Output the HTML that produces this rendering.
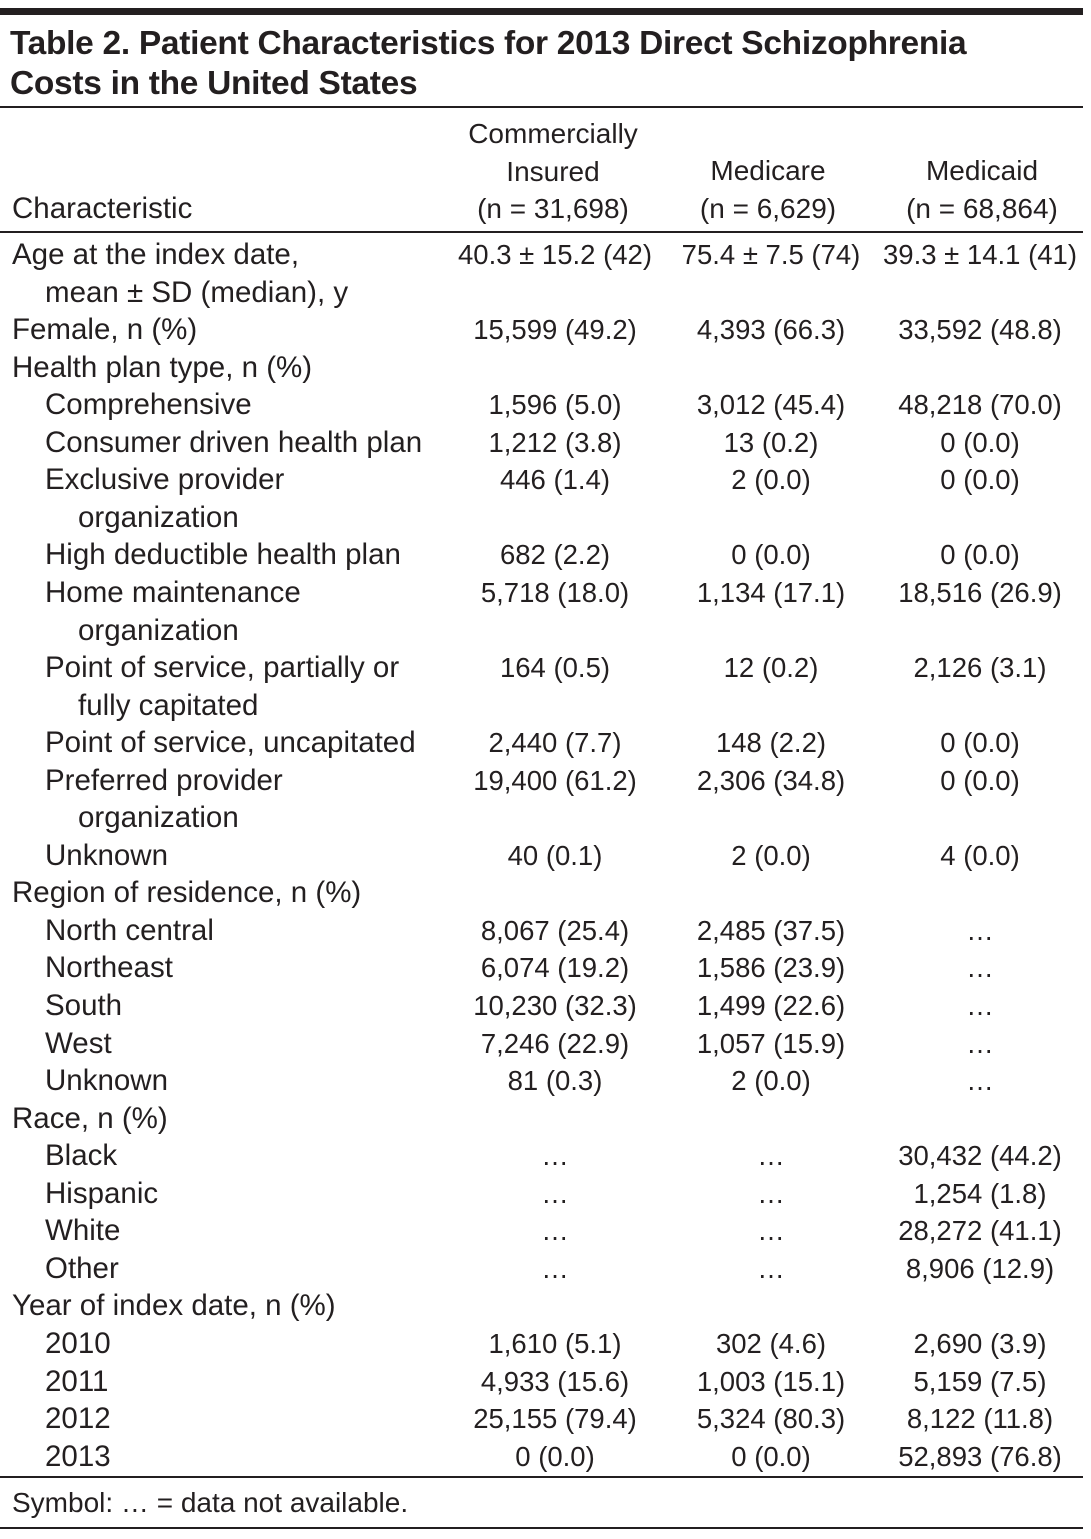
<!DOCTYPE html>
<html><head><meta charset="utf-8">
<style>
body{margin:0;background:#fff;width:1091px;height:1539px;position:relative;overflow:hidden;font-family:"Liberation Sans",sans-serif;color:#231f20}
.a{position:absolute;white-space:nowrap}
.r{position:absolute;left:0;width:1091px;height:38px;line-height:38px;font-size:27.5px}
.lab{font-size:29.5px}
.c{position:absolute;top:0;transform:translateX(-50%)}
.hl{position:absolute;left:0;width:1083px;background:#231f20}
</style></head><body>
<div class="hl" style="top:8px;height:7px"></div>
<div class="a" style="left:10px;top:24px;font-size:33.5px;font-weight:bold;line-height:40px;letter-spacing:-0.3px">Table 2. Patient Characteristics for 2013 Direct Schizophrenia<br>Costs in the United States</div>
<div class="hl" style="top:106px;height:2px"></div>
<div class="a" style="left:12px;top:190px;font-size:29.5px;line-height:38px">Characteristic</div>
<div class="a" style="left:553px;top:115px;transform:translateX(-50%);text-align:center;font-size:28px;line-height:37.5px">Commercially<br>Insured<br>(n = 31,698)</div>
<div class="a" style="left:768px;top:152px;transform:translateX(-50%);text-align:center;font-size:28px;line-height:37.5px">Medicare<br>(n = 6,629)</div>
<div class="a" style="left:982px;top:152px;transform:translateX(-50%);text-align:center;font-size:28px;line-height:37.5px">Medicaid<br>(n = 68,864)</div>
<div class="hl" style="top:231px;height:2px"></div>
<div id="rows"></div>
<div class="hl" style="top:1476px;height:2px"></div>
<div class="a" style="left:12px;top:1484px;font-size:28px;line-height:38px">Symbol: … = data not available.</div>
<div class="hl" style="top:1527px;height:2px"></div>
<script>
const E="…";
const rows=[
["Age at the index date,",0,"40.3 ± 15.2 (42)","75.4 ± 7.5 (74)","39.3 ± 14.1 (41)"],
["mean ± SD (median), y",1],
["Female, n (%)",0,"15,599 (49.2)","4,393 (66.3)","33,592 (48.8)"],
["Health plan type, n (%)",0],
["Comprehensive",1,"1,596 (5.0)","3,012 (45.4)","48,218 (70.0)"],
["Consumer driven health plan",1,"1,212 (3.8)","13 (0.2)","0 (0.0)"],
["Exclusive provider",1,"446 (1.4)","2 (0.0)","0 (0.0)"],
["organization",2],
["High deductible health plan",1,"682 (2.2)","0 (0.0)","0 (0.0)"],
["Home maintenance",1,"5,718 (18.0)","1,134 (17.1)","18,516 (26.9)"],
["organization",2],
["Point of service, partially or",1,"164 (0.5)","12 (0.2)","2,126 (3.1)"],
["fully capitated",2],
["Point of service, uncapitated",1,"2,440 (7.7)","148 (2.2)","0 (0.0)"],
["Preferred provider",1,"19,400 (61.2)","2,306 (34.8)","0 (0.0)"],
["organization",2],
["Unknown",1,"40 (0.1)","2 (0.0)","4 (0.0)"],
["Region of residence, n (%)",0],
["North central",1,"8,067 (25.4)","2,485 (37.5)",E],
["Northeast",1,"6,074 (19.2)","1,586 (23.9)",E],
["South",1,"10,230 (32.3)","1,499 (22.6)",E],
["West",1,"7,246 (22.9)","1,057 (15.9)",E],
["Unknown",1,"81 (0.3)","2 (0.0)",E],
["Race, n (%)",0],
["Black",1,E,E,"30,432 (44.2)"],
["Hispanic",1,E,E,"1,254 (1.8)"],
["White",1,E,E,"28,272 (41.1)"],
["Other",1,E,E,"8,906 (12.9)"],
["Year of index date, n (%)",0],
["2010",1,"1,610 (5.1)","302 (4.6)","2,690 (3.9)"],
["2011",1,"4,933 (15.6)","1,003 (15.1)","5,159 (7.5)"],
["2012",1,"25,155 (79.4)","5,324 (80.3)","8,122 (11.8)"],
["2013",1,"0 (0.0)","0 (0.0)","52,893 (76.8)"]
];
const indents=[12,45,78];
const colX=[555,771,980];
const host=document.getElementById('rows');
rows.forEach((r,i)=>{
  const d=document.createElement('div');
  d.className='r';
  d.style.top=(236+i*37.55)+'px';
  
  
  const l=document.createElement('span');
  l.className='a lab';
  l.style.left=indents[r[1]]+'px';
  l.textContent=r[0];
  
  
  d.appendChild(l);
  for(let k=0;k<3;k++){
    if(r[2+k]===undefined)continue;
    const c=document.createElement('span');
    c.className='a c';
    c.style.left=colX[k]+'px';
    c.textContent=r[2+k];
    
    
    d.appendChild(c);
  }
  host.appendChild(d);
});
</script>
</body></html>
